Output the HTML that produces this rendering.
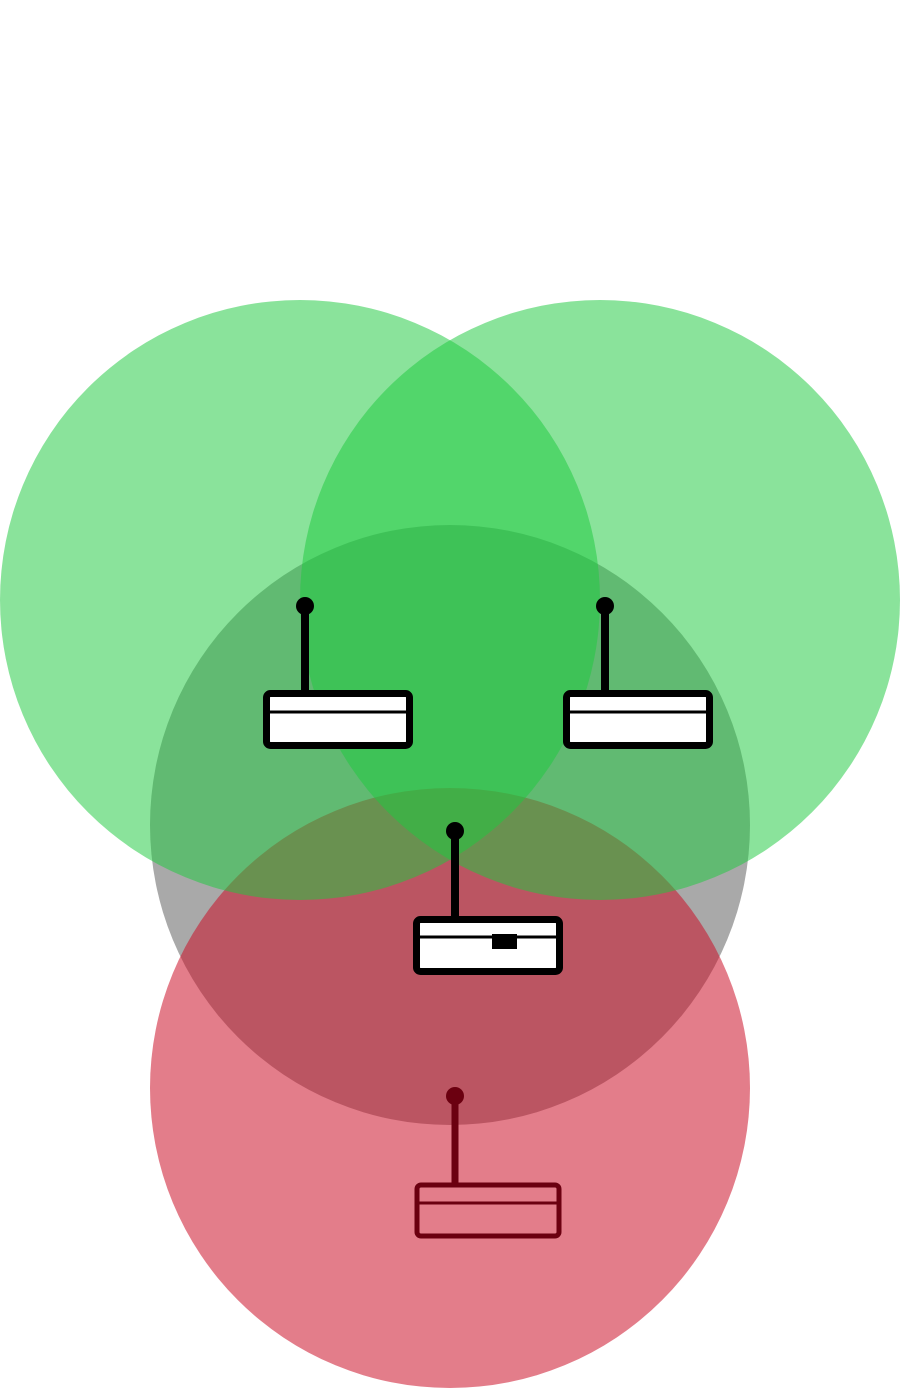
<!DOCTYPE html>
<html><head><style>html,body{margin:0;padding:0;background:#fff}svg{display:block}</style></head>
<body>
<svg width="901" height="1388" viewBox="0 0 901 1388" xmlns="http://www.w3.org/2000/svg">
<circle cx="450" cy="825" r="300" fill="rgb(80,80,80)" fill-opacity="0.49"/>
<circle cx="450" cy="1088" r="300" fill="rgb(203,12,36)" fill-opacity="0.535"/>
<circle cx="300" cy="600" r="300" fill="rgb(30,201,63)" fill-opacity="0.52"/>
<circle cx="600" cy="600" r="300" fill="rgb(30,201,63)" fill-opacity="0.52"/>
<g stroke="#000" fill="#fff">
  <line x1="305" y1="606" x2="305" y2="694" stroke-width="8"/>
  <circle cx="305" cy="606" r="9" fill="#000" stroke="none"/>
  <rect x="266.5" y="693.5" width="143" height="52" rx="4" stroke-width="7"/>
  <line x1="266" y1="712" x2="410" y2="712" stroke-width="3"/>
  <line x1="605" y1="606" x2="605" y2="694" stroke-width="8"/>
  <circle cx="605" cy="606" r="9" fill="#000" stroke="none"/>
  <rect x="566.5" y="693.5" width="143" height="52" rx="4" stroke-width="7"/>
  <line x1="566" y1="712" x2="710" y2="712" stroke-width="3"/>
  <line x1="455" y1="831" x2="455" y2="919" stroke-width="8"/>
  <circle cx="455" cy="831" r="9" fill="#000" stroke="none"/>
  <rect x="416.5" y="919.5" width="143" height="52" rx="4" stroke-width="7"/>
  <line x1="416" y1="937" x2="560" y2="937" stroke-width="3"/>
  <rect x="492" y="934" width="25" height="15" fill="#000" stroke="none"/>
</g>
<g stroke="#6b0010" fill="none">
  <line x1="455" y1="1096" x2="455" y2="1185" stroke-width="7"/>
  <circle cx="455" cy="1096" r="9" fill="#6b0010" stroke="none"/>
  <rect x="417" y="1185" width="142" height="51" rx="4" stroke-width="5"/>
  <line x1="417" y1="1203" x2="559" y2="1203" stroke-width="3"/>
</g>
</svg>
</body></html>
